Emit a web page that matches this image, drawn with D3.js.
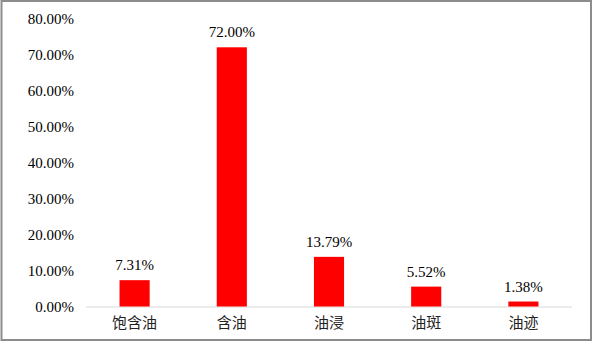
<!DOCTYPE html>
<html>
<head>
<meta charset="utf-8">
<script src="https://cdn.jsdelivr.net/npm/d3@7"></script>
<style>
  body { margin: 0; background: #fff; }
</style>
</head>
<body>
<div id="chart"></div>
<script>
const width = 593;
const height = 345;

const categories = ['饱含油', '含油', '油浸', '油斑', '油迹'];
const values = [7.31, 72.00, 13.79, 5.52, 1.38];
const ticks = [0, 10, 20, 30, 40, 50, 60, 70, 80];

const serif = '"Liberation Serif", "Times New Roman", serif';
const cjk = '"Noto Sans CJK SC", sans-serif';

const margin = { top: 18.5, right: 21, bottom: 38.5, left: 86 };

const svg = d3.select('#chart')
    .append('svg')
    .attr('width', width)
    .attr('height', height);

svg.append('rect')
    .attr('x', 1.5)
    .attr('y', 1)
    .attr('width', 589.5)
    .attr('height', 339)
    .attr('fill', '#fff')
    .attr('stroke', '#8c8c8c')
    .attr('stroke-width', 2);

const x = d3.scaleBand()
    .domain(categories)
    .range([margin.left, width - margin.right])
    .paddingInner(0.69)
    .paddingOuter(0.345);

const y = d3.scaleLinear()
    .domain([0, 80])
    .range([height - margin.bottom, margin.top]);

// y axis labels only
const yAxis = svg.append('g')
    .attr('transform', 'translate(' + (margin.left - 12) + ',0)')
    .call(d3.axisLeft(y).tickValues(ticks).tickSize(0).tickFormat((d) => d.toFixed(2) + '%'));
yAxis.attr('font-family', null);
yAxis.select('.domain').remove();
yAxis.selectAll('text')
    .attr('x', 0)
    .style('font-family', serif)
    .style('font-size', '15px')
    .style('fill', '#000');

// baseline
svg.append('line')
    .attr('x1', margin.left)
    .attr('x2', width - margin.right)
    .attr('y1', y(0) + 0.5)
    .attr('y2', y(0) + 0.5)
    .attr('stroke', '#d9d9d9')
    .attr('stroke-width', 1);

// bars
svg.selectAll('.bar')
    .data(values)
    .enter()
    .append('rect')
    .attr('class', 'bar')
    .attr('x', (d, i) => x(categories[i]))
    .attr('y', (d) => y(d))
    .attr('width', x.bandwidth())
    .attr('height', (d) => y(0) - y(d))
    .attr('fill', '#ff0000');

// value labels
svg.selectAll('.val')
    .data(values)
    .enter()
    .append('text')
    .attr('class', 'val')
    .attr('x', (d, i) => x(categories[i]) + x.bandwidth() / 2)
    .attr('y', (d) => y(d) - 10)
    .attr('text-anchor', 'middle')
    .style('font-family', serif)
    .style('font-size', '15px')
    .style('fill', '#000')
    .text((d) => d.toFixed(2) + '%');

// category labels
const xAxis = svg.append('g')
    .attr('transform', 'translate(0,' + y(0) + ')')
    .call(d3.axisBottom(x).tickSize(0).tickPadding(11));
xAxis.select('.domain').remove();
xAxis.selectAll('text')
    .style('font-family', cjk)
    .style('font-size', '15px')
    .style('fill', '#222');
</script>
</body>
</html>
